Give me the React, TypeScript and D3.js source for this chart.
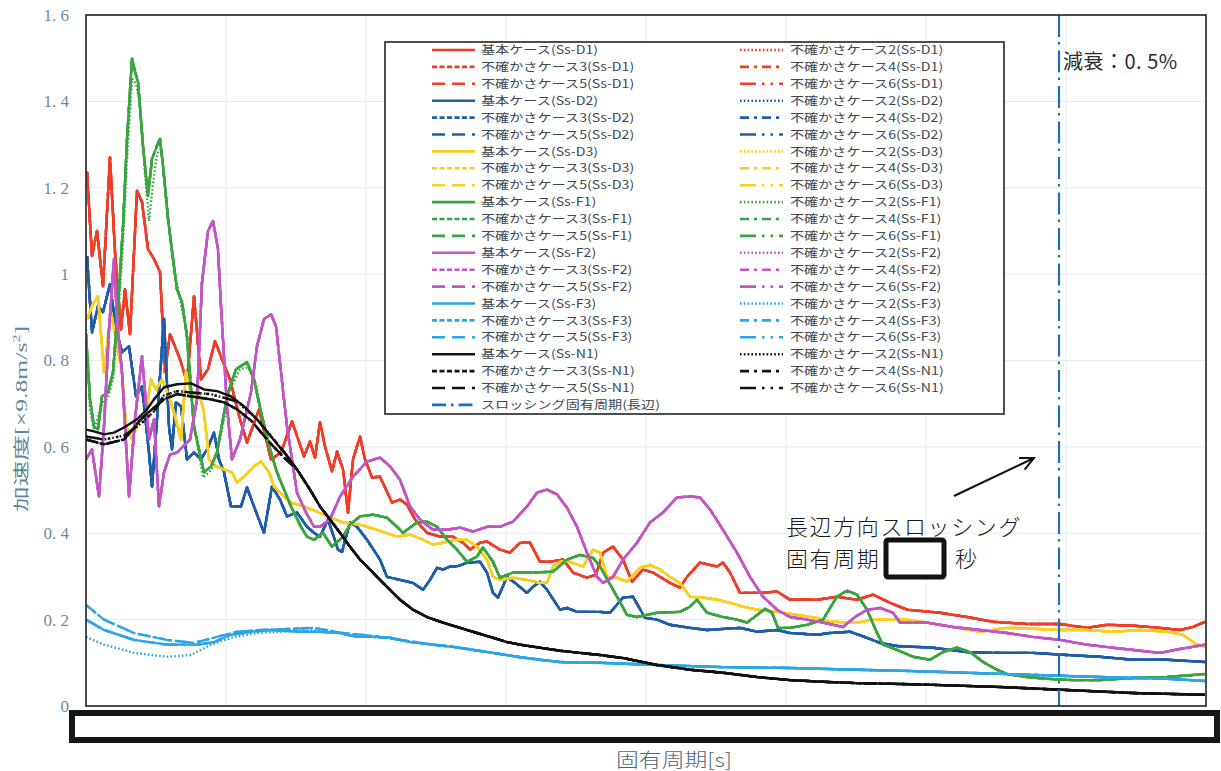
import React from "react";
import * as d3 from "d3";

type P = [number, number];

// ---------- axes ----------
const periodDomain: [number, number] = [0, 11.2];
const accelDomain: [number, number] = [0, 1.6];
const yTickValues = [0, 0.2, 0.4, 0.6, 0.8, 1.0, 1.2, 1.4, 1.6];
const yTickLabels = ["0", "0. 2", "0. 4", "0. 6", "0. 8", "1", "1. 2", "1. 4", "1. 6"];
const xGridValues = [0, 1.4, 2.8, 4.2, 5.6, 7.0, 8.4, 9.8, 11.2];
const sloshingPeriod = 9.73;

// ---------- data (period, acceleration) ----------
const ssD1Base: P[] = [
  [0.01, 1.237], [0.06, 1.042], [0.11, 1.1], [0.17, 0.972], [0.24, 1.271], [0.29, 1.051], [0.35, 0.872], [0.39, 0.965],
  [0.44, 0.861], [0.51, 1.193], [0.56, 1.167], [0.62, 1.058], [0.68, 1.035], [0.74, 1.005], [0.79, 0.773], [0.84, 0.861],
  [0.94, 0.803], [1.01, 0.749], [1.08, 0.949], [1.15, 0.756], [1.22, 0.78], [1.29, 0.845], [1.36, 0.803], [1.44, 0.756],
  [1.54, 0.664], [1.61, 0.61], [1.73, 0.687], [1.85, 0.571], [1.95, 0.587], [2.06, 0.659], [2.18, 0.578], [2.24, 0.613],
  [2.29, 0.575], [2.34, 0.657], [2.39, 0.601], [2.46, 0.543], [2.51, 0.589], [2.57, 0.548], [2.62, 0.448], [2.67, 0.571],
  [2.74, 0.624], [2.79, 0.571], [2.86, 0.529], [2.94, 0.531], [3.06, 0.471], [3.14, 0.478], [3.21, 0.466], [3.29, 0.432],
  [3.41, 0.401], [3.54, 0.392], [3.67, 0.392], [3.77, 0.378], [3.84, 0.362], [3.94, 0.378], [4.01, 0.381], [4.14, 0.362],
  [4.24, 0.355], [4.34, 0.378], [4.44, 0.378], [4.54, 0.334], [4.64, 0.334], [4.77, 0.339], [4.87, 0.309], [5.01, 0.297],
  [5.1, 0.304], [5.17, 0.355], [5.27, 0.369], [5.37, 0.339], [5.46, 0.288], [5.57, 0.316], [5.67, 0.309], [5.84, 0.285],
  [5.94, 0.274], [6.01, 0.299], [6.14, 0.332], [6.31, 0.323], [6.37, 0.332], [6.44, 0.309], [6.54, 0.262], [6.74, 0.262],
  [6.91, 0.265], [7.04, 0.246], [7.31, 0.246], [7.51, 0.253], [7.71, 0.246], [7.87, 0.258], [8.04, 0.239], [8.21, 0.223],
  [8.54, 0.216], [8.81, 0.206], [9.07, 0.195], [9.41, 0.19], [9.74, 0.19], [10.01, 0.181], [10.21, 0.188], [10.47, 0.186],
  [10.74, 0.181], [10.94, 0.176], [11.07, 0.183], [11.19, 0.195],
];

const ssD2Base: P[] = [
  [0.01, 1.042], [0.06, 0.865], [0.12, 0.926], [0.17, 0.912], [0.24, 0.977], [0.3, 0.872], [0.36, 0.819], [0.43, 0.833],
  [0.5, 0.717], [0.56, 0.74], [0.63, 0.587], [0.66, 0.508], [0.71, 0.664], [0.78, 0.896], [0.83, 0.647], [0.86, 0.594],
  [0.9, 0.703], [0.95, 0.694], [1.01, 0.571], [1.08, 0.587], [1.15, 0.571], [1.21, 0.594], [1.28, 0.633], [1.33, 0.571],
  [1.38, 0.541], [1.45, 0.462], [1.55, 0.462], [1.61, 0.506], [1.68, 0.462], [1.78, 0.401], [1.86, 0.508], [1.94, 0.478],
  [2.01, 0.439], [2.11, 0.448], [2.21, 0.415], [2.28, 0.401], [2.34, 0.392], [2.42, 0.432], [2.52, 0.362], [2.56, 0.357],
  [2.64, 0.425], [2.71, 0.415], [2.81, 0.385], [2.94, 0.339], [3.01, 0.299], [3.14, 0.292], [3.27, 0.285], [3.37, 0.269],
  [3.44, 0.292], [3.51, 0.32], [3.57, 0.316], [3.64, 0.323], [3.71, 0.323], [3.81, 0.332], [3.94, 0.334], [4.01, 0.309],
  [4.07, 0.262], [4.12, 0.251], [4.21, 0.299], [4.29, 0.285], [4.41, 0.262], [4.47, 0.276], [4.54, 0.288], [4.61, 0.269],
  [4.74, 0.223], [4.81, 0.227], [4.91, 0.218], [5.14, 0.218], [5.24, 0.216], [5.37, 0.251], [5.47, 0.253], [5.59, 0.204],
  [5.71, 0.2], [5.84, 0.188], [6.04, 0.181], [6.21, 0.176], [6.54, 0.181], [6.71, 0.172], [6.91, 0.176], [7.04, 0.169],
  [7.31, 0.165], [7.44, 0.169], [7.64, 0.172], [7.81, 0.158], [7.94, 0.146], [8.11, 0.139], [8.47, 0.135], [8.81, 0.125],
  [9.14, 0.123], [9.47, 0.123], [9.81, 0.118], [10.14, 0.114], [10.47, 0.107], [10.81, 0.107], [11.19, 0.102],
];

const ssD3Base: P[] = [
  [0.01, 0.896], [0.06, 0.926], [0.12, 0.949], [0.18, 0.773], [0.25, 0.912], [0.3, 0.849], [0.36, 0.773], [0.4, 0.647],
  [0.46, 0.617], [0.53, 0.664], [0.6, 0.68], [0.65, 0.756], [0.7, 0.733], [0.76, 0.756], [0.82, 0.722], [0.88, 0.68],
  [0.95, 0.617], [1.0, 0.773], [1.06, 0.71], [1.12, 0.733], [1.18, 0.68], [1.23, 0.571], [1.3, 0.555], [1.38, 0.548],
  [1.46, 0.541], [1.51, 0.517], [1.58, 0.531], [1.68, 0.555], [1.75, 0.566], [1.83, 0.541], [1.88, 0.508], [1.98, 0.485],
  [2.05, 0.471], [2.18, 0.462], [2.31, 0.45], [2.44, 0.436], [2.57, 0.425], [2.74, 0.42], [2.91, 0.408], [3.11, 0.392],
  [3.24, 0.397], [3.37, 0.385], [3.47, 0.374], [3.57, 0.378], [3.71, 0.385], [3.81, 0.385], [3.91, 0.369], [4.01, 0.339],
  [4.07, 0.299], [4.14, 0.292], [4.27, 0.297], [4.41, 0.292], [4.54, 0.285], [4.61, 0.285], [4.67, 0.323], [4.74, 0.334],
  [4.84, 0.334], [4.97, 0.323], [5.07, 0.362], [5.14, 0.355], [5.21, 0.299], [5.31, 0.297], [5.41, 0.288], [5.54, 0.32],
  [5.64, 0.327], [5.74, 0.316], [5.84, 0.299], [5.94, 0.285], [6.04, 0.253], [6.17, 0.251], [6.31, 0.246], [6.44, 0.239],
  [6.57, 0.23], [6.71, 0.223], [6.91, 0.218], [7.11, 0.211], [7.31, 0.204], [7.44, 0.195], [7.71, 0.193], [7.87, 0.2],
  [8.21, 0.2], [8.41, 0.193], [8.67, 0.183], [8.94, 0.172], [9.21, 0.181], [9.47, 0.179], [9.74, 0.176], [10.01, 0.176],
  [10.27, 0.172], [10.54, 0.176], [10.81, 0.172], [10.97, 0.165], [11.11, 0.142], [11.19, 0.137],
];

const ssF1Base: P[] = [
  [0.0, 0.86], [0.04, 0.71], [0.08, 0.647], [0.12, 0.64], [0.16, 0.717], [0.22, 0.726], [0.27, 0.773], [0.32, 0.926],
  [0.37, 1.111], [0.41, 1.313], [0.46, 1.499], [0.49, 1.469], [0.52, 1.445], [0.57, 1.297], [0.62, 1.181], [0.66, 1.267],
  [0.71, 1.297], [0.74, 1.313], [0.77, 1.251], [0.82, 1.128], [0.87, 1.035], [0.91, 0.965], [0.96, 0.935], [1.01, 0.856],
  [1.08, 0.647], [1.18, 0.541], [1.25, 0.555], [1.31, 0.587], [1.41, 0.717], [1.5, 0.78], [1.61, 0.796], [1.68, 0.756],
  [1.75, 0.68], [1.85, 0.587], [1.91, 0.541], [2.05, 0.462], [2.15, 0.415], [2.21, 0.392], [2.28, 0.385], [2.37, 0.401],
  [2.46, 0.369], [2.57, 0.392], [2.64, 0.42], [2.74, 0.439], [2.87, 0.443], [3.01, 0.436], [3.11, 0.415], [3.17, 0.401],
  [3.24, 0.413], [3.31, 0.425], [3.41, 0.427], [3.51, 0.415], [3.61, 0.385], [3.71, 0.362], [3.81, 0.334], [3.91, 0.346],
  [3.97, 0.367], [4.07, 0.334], [4.14, 0.297], [4.27, 0.309], [4.47, 0.309], [4.67, 0.311], [4.81, 0.339], [4.94, 0.35],
  [5.07, 0.343], [5.14, 0.323], [5.31, 0.253], [5.41, 0.211], [5.51, 0.206], [5.71, 0.216], [5.94, 0.218], [6.04, 0.23],
  [6.11, 0.246], [6.21, 0.216], [6.37, 0.206], [6.51, 0.2], [6.61, 0.193], [6.74, 0.216], [6.79, 0.225], [6.86, 0.216],
  [6.92, 0.181], [7.04, 0.181], [7.21, 0.188], [7.37, 0.2], [7.51, 0.253], [7.61, 0.267], [7.71, 0.258], [7.81, 0.223],
  [7.91, 0.169], [7.97, 0.142], [8.11, 0.13], [8.27, 0.114], [8.44, 0.107], [8.57, 0.125], [8.71, 0.135], [8.84, 0.125],
  [8.97, 0.102], [9.11, 0.084], [9.21, 0.074], [9.41, 0.067], [9.61, 0.063], [9.87, 0.06], [10.14, 0.06], [10.47, 0.065],
  [10.81, 0.067], [11.19, 0.074],
];
const ssF1Case2Head: P[] = [
  [0.0, 0.872], [0.04, 0.687], [0.08, 0.64], [0.16, 0.698], [0.22, 0.715], [0.27, 0.756], [0.32, 0.896], [0.37, 1.07],
  [0.41, 1.267], [0.46, 1.452], [0.5, 1.441], [0.54, 1.394], [0.59, 1.232], [0.63, 1.123], [0.67, 1.209], [0.71, 1.278],
  [0.75, 1.29], [0.79, 1.209], [0.84, 1.093], [0.89, 1.0], [0.94, 0.942], [1.0, 0.872], [1.07, 0.664], [1.17, 0.529],
  [1.26, 0.548], [1.34, 0.617], [1.44, 0.733], [1.54, 0.78], [1.62, 0.784], [1.7, 0.745],
];

const ssF2Base: P[] = [
  [0.0, 0.571], [0.06, 0.594], [0.13, 0.485], [0.18, 0.647], [0.23, 0.872], [0.28, 1.035], [0.31, 0.896], [0.36, 0.773],
  [0.43, 0.485], [0.49, 0.664], [0.56, 0.81], [0.63, 0.617], [0.68, 0.664], [0.73, 0.462], [0.78, 0.541], [0.84, 0.582],
  [0.91, 0.587], [1.04, 0.617], [1.11, 0.71], [1.16, 0.981], [1.22, 1.1], [1.27, 1.123], [1.32, 1.058], [1.35, 0.926],
  [1.41, 0.694], [1.46, 0.571], [1.54, 0.617], [1.65, 0.726], [1.71, 0.833], [1.78, 0.896], [1.85, 0.907], [1.9, 0.879],
  [1.95, 0.773], [2.01, 0.647], [2.11, 0.494], [2.2, 0.448], [2.28, 0.415], [2.34, 0.415], [2.44, 0.432], [2.54, 0.485],
  [2.67, 0.531], [2.81, 0.566], [2.94, 0.575], [3.04, 0.555], [3.14, 0.524], [3.24, 0.462], [3.34, 0.432], [3.47, 0.408],
  [3.61, 0.408], [3.74, 0.413], [3.87, 0.404], [4.01, 0.415], [4.14, 0.415], [4.27, 0.427], [4.41, 0.462], [4.51, 0.494],
  [4.61, 0.501], [4.71, 0.49], [4.81, 0.459], [4.91, 0.415], [5.01, 0.355], [5.11, 0.299], [5.17, 0.285], [5.27, 0.299],
  [5.37, 0.339], [5.51, 0.378], [5.64, 0.425], [5.77, 0.448], [5.91, 0.483], [6.04, 0.485], [6.14, 0.483], [6.24, 0.455],
  [6.37, 0.408], [6.51, 0.355], [6.64, 0.299], [6.77, 0.253], [6.91, 0.223], [7.04, 0.206], [7.21, 0.2], [7.37, 0.193],
  [7.57, 0.183], [7.69, 0.206], [7.81, 0.223], [7.94, 0.227], [8.07, 0.216], [8.14, 0.193], [8.41, 0.193], [8.67, 0.183],
  [8.94, 0.176], [9.21, 0.169], [9.47, 0.16], [9.74, 0.153], [10.01, 0.142], [10.27, 0.135], [10.54, 0.128], [10.74, 0.123],
  [10.94, 0.132], [11.19, 0.142],
];

const ssF3Base: P[] = [
  [0.0, 0.2], [0.18, 0.176], [0.48, 0.153], [0.81, 0.142], [1.11, 0.142], [1.28, 0.148], [1.45, 0.165], [1.65, 0.172],
  [1.85, 0.176], [2.14, 0.172], [2.34, 0.172], [2.54, 0.169], [2.71, 0.16], [2.87, 0.16], [3.04, 0.158], [3.24, 0.148],
  [3.47, 0.142], [3.67, 0.137], [3.87, 0.13], [4.07, 0.123], [4.31, 0.114], [4.54, 0.107], [4.74, 0.102], [4.94, 0.1],
  [5.14, 0.1], [5.71, 0.095], [6.37, 0.09], [7.04, 0.088], [7.71, 0.084], [8.24, 0.081], [8.81, 0.077], [9.47, 0.072],
  [10.14, 0.067], [10.81, 0.063], [11.19, 0.058],
];
const ssF3Case2Head: P[] = [
  [0.0, 0.16], [0.18, 0.142], [0.48, 0.123], [0.81, 0.114], [1.05, 0.118], [1.25, 0.142], [1.48, 0.16], [1.71, 0.169],
  [2.28, 0.176],
];
const ssF3Case3Head: P[] = [
  [0.0, 0.234], [0.18, 0.2], [0.48, 0.169], [0.81, 0.153], [1.08, 0.146], [1.31, 0.16], [1.51, 0.172], [1.75, 0.176],
  [2.28, 0.181], [2.54, 0.17], [2.87, 0.162], [3.24, 0.15],
];

const ssN1Base: P[] = [
  [0.0, 0.64], [0.08, 0.636], [0.18, 0.629], [0.28, 0.633], [0.38, 0.645], [0.51, 0.664], [0.61, 0.687], [0.68, 0.71],
  [0.78, 0.738], [0.91, 0.745], [1.05, 0.747], [1.18, 0.733], [1.31, 0.729], [1.45, 0.717], [1.58, 0.694], [1.71, 0.664],
  [1.85, 0.624], [1.98, 0.587], [2.11, 0.548], [2.24, 0.501], [2.34, 0.462], [2.44, 0.432], [2.54, 0.401], [2.64, 0.369],
  [2.74, 0.339], [2.84, 0.316], [2.94, 0.292], [3.04, 0.269], [3.14, 0.246], [3.27, 0.223], [3.41, 0.206], [3.57, 0.193],
  [3.74, 0.181], [3.91, 0.169], [4.07, 0.158], [4.21, 0.148], [4.34, 0.142], [4.54, 0.135], [4.74, 0.128], [4.94, 0.123],
  [5.14, 0.118], [5.37, 0.111], [5.71, 0.095], [6.04, 0.084], [6.37, 0.077], [6.71, 0.067], [7.04, 0.06], [7.37, 0.056],
  [7.71, 0.053], [8.14, 0.051], [8.47, 0.049], [9.14, 0.044], [9.81, 0.037], [10.47, 0.03], [11.19, 0.026],
];
const ssN1Case2Head: P[] = [
  [0.0, 0.624], [0.18, 0.617], [0.38, 0.626], [0.55, 0.654], [0.68, 0.682], [0.78, 0.719], [0.91, 0.729], [1.05, 0.726],
  [1.25, 0.722], [1.51, 0.705], [1.71, 0.664], [1.98, 0.589],
];
const ssN1Case3Head: P[] = [
  [0.0, 0.617], [0.18, 0.606], [0.38, 0.617], [0.55, 0.664], [0.68, 0.691], [0.78, 0.71], [0.91, 0.722], [1.05, 0.717],
  [1.25, 0.71], [1.38, 0.703], [1.51, 0.687], [1.66, 0.659], [1.81, 0.617], [1.98, 0.575],
];

// ---------- series ----------
const withTail = (head: P[], base: P[]): P[] => [
  ...head,
  ...base.filter((p) => p[0] > head[head.length - 1][0]),
];

const quakeNames = ["Ss-D1", "Ss-D2", "Ss-D3", "Ss-F1", "Ss-F2", "Ss-F3", "Ss-N1"];
const quakeColors = ["#ef3d27", "#1f5dab", "#f8cf1d", "#3aa540", "#c156c4", "#2aa5e8", "#111111"];
const caseNumbers = [1, 2, 3, 4, 5, 6];
const caseDash: Record<number, string> = {
  1: "none",
  2: "1.6 2.2",
  3: "5 2.5",
  4: "9 5 3 5",
  5: "13 7",
  6: "16 6 2.5 6 2.5 6",
};

const quakeCaseData: Record<string, Record<number, P[]>> = {
  "Ss-D1": { 1: ssD1Base, 2: ssD1Base, 3: ssD1Base, 4: ssD1Base, 5: ssD1Base, 6: ssD1Base },
  "Ss-D2": { 1: ssD2Base, 2: ssD2Base, 3: ssD2Base, 4: ssD2Base, 5: ssD2Base, 6: ssD2Base },
  "Ss-D3": { 1: ssD3Base, 2: ssD3Base, 3: ssD3Base, 4: ssD3Base, 5: ssD3Base, 6: ssD3Base },
  "Ss-F1": { 1: ssF1Base, 2: withTail(ssF1Case2Head, ssF1Base), 3: ssF1Base, 4: ssF1Base, 5: ssF1Base, 6: ssF1Base },
  "Ss-F2": { 1: ssF2Base, 2: ssF2Base, 3: ssF2Base, 4: ssF2Base, 5: ssF2Base, 6: ssF2Base },
  "Ss-F3": {
    1: ssF3Base,
    2: withTail(ssF3Case2Head, ssF3Base),
    3: withTail(ssF3Case3Head, ssF3Base),
    4: ssF3Base,
    5: withTail(ssF3Case3Head, ssF3Base),
    6: ssF3Base,
  },
  "Ss-N1": {
    1: ssN1Base,
    2: withTail(ssN1Case2Head, ssN1Base),
    3: withTail(ssN1Case3Head, ssN1Base),
    4: withTail(ssN1Case3Head, ssN1Base),
    5: withTail(ssN1Case3Head, ssN1Base),
    6: withTail(ssN1Case2Head, ssN1Base),
  },
};

const caseLabel = (c: number, q: string) =>
  c === 1 ? `基本ケース(${q})` : `不確かさケース${c}(${q})`;

const sloshingLabel = "スロッシング固有周期(長辺)";
const dampingText = "減衰：0. 5%";
const noteLine1 = "長辺方向スロッシング";
const noteLine2a = "固有周期";
const noteLine2b = "秒";
const yAxisTitle = "加速度[×9.8m/s";
const xAxisTitle = "固有周期[s]";

// ---------- layout ----------
const W = 1221;
const H = 771;
const plotLeft = 86;
const plotRight = 1206;
const plotTop = 15;
const plotBottom = 706;

const JP = "'Noto Sans CJK JP', 'Noto Sans', sans-serif";
const SERIF = "'Liberation Serif', 'DejaVu Serif', 'Noto Sans CJK JP', serif";

export default function App() {
  const x = d3.scaleLinear().domain(periodDomain).range([plotLeft, plotRight]);
  const y = d3.scaleLinear().domain(accelDomain).range([plotBottom, plotTop]);
  const line = d3
    .line<P>()
    .x((d) => x(d[0]))
    .y((d) => y(d[1]))
    .curve(d3.curveLinear);

  const sloshX = x(sloshingPeriod);

  // legend rows
  const rowY = (i: number) => 50 + i * 16.9;
  const leftRows: { label: string; color: string; dash: string }[] = [];
  const rightRows: { label: string; color: string; dash: string }[] = [];
  quakeNames.forEach((q, qi) => {
    [1, 3, 5].forEach((c) => leftRows.push({ label: caseLabel(c, q), color: quakeColors[qi], dash: caseDash[c] }));
    [2, 4, 6].forEach((c) => rightRows.push({ label: caseLabel(c, q), color: quakeColors[qi], dash: caseDash[c] }));
  });
  leftRows.push({ label: sloshingLabel, color: "#1f6dbf", dash: "14 5 2.5 5" });

  // arrow
  const ax1 = 954, ay1 = 496, ax2 = 1034, ay2 = 458;
  const ang = Math.atan2(ay2 - ay1, ax2 - ax1);
  const hl = 15;
  const h1x = ax2 - hl * Math.cos(ang - 0.45), h1y = ay2 - hl * Math.sin(ang - 0.45);
  const h2x = ax2 - hl * Math.cos(ang + 0.45), h2y = ay2 - hl * Math.sin(ang + 0.45);

  const legendFont = 11.4;
  const legendStretch = 1.24;

  return (
    <svg width={W} height={H} style={{ display: "block", position: "absolute", left: 0, top: 0, background: "#fff" }}>
      <defs>
        <clipPath id="plotClip">
          <rect x={plotLeft} y={plotTop} width={plotRight - plotLeft} height={plotBottom - plotTop} />
        </clipPath>
      </defs>
      <rect x={0} y={0} width={W} height={H} fill="#fff" />

      {/* grid */}
      {yTickValues.map((v) => (
        <line key={"gy" + v} x1={plotLeft} x2={plotRight} y1={y(v)} y2={y(v)} stroke="#e3ebf2" strokeWidth={1} />
      ))}
      {xGridValues.map((v) => (
        <line key={"gx" + v} x1={x(v)} x2={x(v)} y1={plotTop} y2={plotBottom} stroke="#e9eff4" strokeWidth={1} />
      ))}

      {/* series */}
      <g clipPath="url(#plotClip)">
        {quakeNames.map((q, qi) =>
          caseNumbers.map((c) => (
            <path
              key={q + c}
              d={line(quakeCaseData[q][c]) || ""}
              fill="none"
              stroke={quakeColors[qi]}
              strokeWidth={2.4}
              strokeDasharray={caseDash[c]}
              strokeLinejoin="round"
            />
          ))
        )}
      </g>

      {/* sloshing line */}
      <line x1={sloshX} x2={sloshX} y1={plotTop} y2={plotBottom} stroke="#1f6dbf" strokeWidth={2.2} strokeDasharray="22 5 2.5 6" />

      {/* frame */}
      <rect x={plotLeft} y={plotTop} width={plotRight - plotLeft} height={plotBottom - plotTop} fill="none" stroke="#222" strokeWidth={1.6} />

      {/* y ticks */}
      {yTickValues.map((v, i) => (
        <text key={"yt" + v} x={69} y={y(v)} dy="0.35em" textAnchor="end" fontFamily={SERIF} fontSize={17} fill="#6a8c9c">
          {yTickLabels[i]}
        </text>
      ))}

      {/* y title */}
      <text
        transform="translate(27,419) rotate(-90)"
        textAnchor="middle"
        fontFamily={SERIF}
        fontSize={16}
        fill="#5f8798"
        textLength={186}
        lengthAdjust="spacingAndGlyphs"
      >
        {yAxisTitle}
        <tspan fontSize={10} dy={-7}>2</tspan>
        <tspan dy={7}>]</tspan>
      </text>

      {/* covered x-axis labels box */}
      <rect x={72} y={713} width={1145} height={27} fill="#fff" stroke="#161616" strokeWidth={6} />
      <text
        x={674}
        y={767}
        textAnchor="middle"
        fontFamily={JP}
        fontSize={19}
        fill="#50677a"
        fontWeight={300}
        textLength={116}
        lengthAdjust="spacingAndGlyphs"
      >
        {xAxisTitle}
      </text>

      {/* legend */}
      <rect x={385} y={42} width={619} height={372} fill="#fff" stroke="#222" strokeWidth={1.6} />
      {leftRows.map((r, i) => (
        <g key={"ll" + i}>
          <line x1={432} x2={475} y1={rowY(i)} y2={rowY(i)} stroke={r.color} strokeWidth={2.6} strokeDasharray={r.dash} />
          <text
            transform={`translate(481,${rowY(i)}) scale(${legendStretch},1)`}
            dy="0.36em"
            fontFamily={JP}
            fontSize={legendFont}
            fill="#3b4850"
          >
            {r.label}
          </text>
        </g>
      ))}
      {rightRows.map((r, i) => (
        <g key={"lr" + i}>
          <line x1={740} x2={783} y1={rowY(i)} y2={rowY(i)} stroke={r.color} strokeWidth={2.6} strokeDasharray={r.dash} />
          <text
            transform={`translate(790,${rowY(i)}) scale(${legendStretch},1)`}
            dy="0.36em"
            fontFamily={JP}
            fontSize={legendFont}
            fill="#3b4850"
          >
            {r.label}
          </text>
        </g>
      ))}

      {/* damping note */}
      <text x={1063} y={69} fontFamily={JP} fontSize={20} fill="#2b2b2b" letterSpacing={0.5}>
        {dampingText}
      </text>

      {/* sloshing annotation */}
      <line x1={ax1} y1={ay1} x2={ax2} y2={ay2} stroke="#111" strokeWidth={2} />
      <polyline points={`${h1x},${h1y} ${ax2},${ay2} ${h2x},${h2y}`} fill="none" stroke="#111" strokeWidth={2} />
      <text x={786} y={535} fontFamily={JP} fontSize={22} fill="#1a1a1a" letterSpacing={1.6} fontWeight={300}>
        {noteLine1}
      </text>
      <text x={786} y={567} fontFamily={JP} fontSize={22} fill="#1a1a1a" letterSpacing={1.6} fontWeight={300}>
        {noteLine2a}
      </text>
      <rect x={886} y={540} width={58} height={37} rx={2} fill="#fff" stroke="#111" strokeWidth={5} />
      <text x={955} y={567} fontFamily={JP} fontSize={22} fill="#1a1a1a" fontWeight={300}>
        {noteLine2b}
      </text>
    </svg>
  );
}
